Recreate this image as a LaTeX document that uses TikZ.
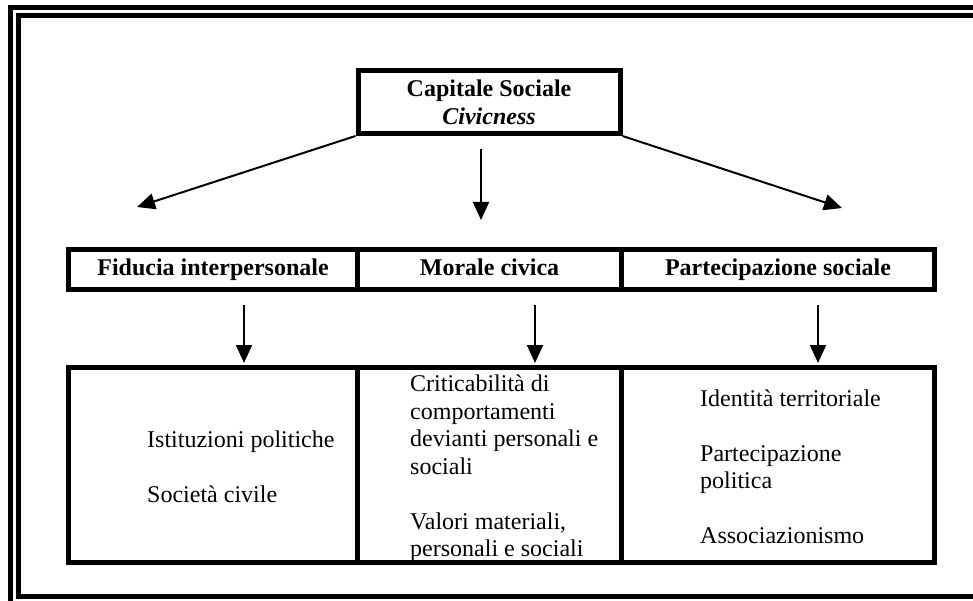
\documentclass[tikz,border=0pt]{standalone}
\usepackage{fontspec}
\setmainfont{Liberation Serif}
\usetikzlibrary{arrows.meta}
\newcommand\dfont{\fontsize{24}{27.5}\selectfont}
\begin{document}
\begin{tikzpicture}[x=1pt,y=-1pt,
  frame/.style={line width=5pt,line join=miter},
  cell/.style={draw,line width=5pt,inner sep=0pt,align=center,font=\dfont\bfseries},
  hcell/.style={cell,text height=17pt,text depth=5pt,minimum height=40pt},
  bodycell/.style={draw,line width=5pt,inner sep=0pt,minimum height=195pt},
  txt/.style={inner sep=0pt,anchor=base west,font=\dfont},
  arr/.style={line width=2pt,-{Triangle[length=18pt,width=16pt]}}]
\useasboundingbox (0,0) rectangle (973,601);
\clip (0,0) rectangle (973,601);
% double frame
\draw[frame] (990,7.5) -- (10.5,7.5) -- (10.5,620);
\draw[frame] (990,15.5) -- (18.5,15.5) -- (18.5,596.5) -- (990,596.5);
% top box
\node[cell,minimum width=262pt,minimum height=62.5pt] (cap) at (489,102.25) {Capitale Sociale\\\textit{Civicness}};
% header row
\node[hcell,minimum width=289pt] (h1) at (213,269.5) {Fiducia interpersonale};
\node[hcell,minimum width=264pt] (h2) at (489.5,269.5) {Morale civica};
\node[hcell,minimum width=313pt] (h3) at (778,269.5) {Partecipazione sociale};
% body row
\node[bodycell,minimum width=289pt] (b1) at (213,465) {};
\node[bodycell,minimum width=264pt] (b2) at (489.5,465) {};
\node[bodycell,minimum width=313pt] (b3) at (778,465) {};
% arrow coordinates
\coordinate (tl) at (137,207);
\coordinate (tr) at (842,208);
\coordinate (ms) at (481,149);
\coordinate (me) at (481,220);
\coordinate (s1) at (244,305);
\coordinate (e1) at (244,363);
\coordinate (s2) at (535,305);
\coordinate (e2) at (535,363);
\coordinate (s3) at (818,305);
\coordinate (e3) at (818,363);
\draw[arr] (cap.south west) -- (tl);
\draw[arr] (cap.south east) -- (tr);
\draw[arr] (ms) -- (me);
\draw[arr] (s1) -- (e1);
\draw[arr] (s2) -- (e2);
\draw[arr] (s3) -- (e3);
% column 1 text
\node[txt] (t11) at (147,447) {Istituzioni politiche};
\node[txt] (t12) at (147,502) {Società civile};
% column 2 text
\node[txt] (t21) at (410,391.5) {Criticabilità di};
\node[txt] (t22) at (410,419) {comportamenti};
\node[txt] (t23) at (410,446.5) {devianti personali e};
\node[txt] (t24) at (410,474) {sociali};
\node[txt] (t25) at (410,529) {Valori materiali,};
\node[txt] (t26) at (410,556.5) {personali e sociali};
% column 3 text
\node[txt] (t31) at (700,406) {Identità territoriale};
\node[txt] (t32) at (700,461) {Partecipazione};
\node[txt] (t33) at (700,488) {politica};
\node[txt] (t34) at (700,543) {Associazionismo};
\end{tikzpicture}
\end{document}
